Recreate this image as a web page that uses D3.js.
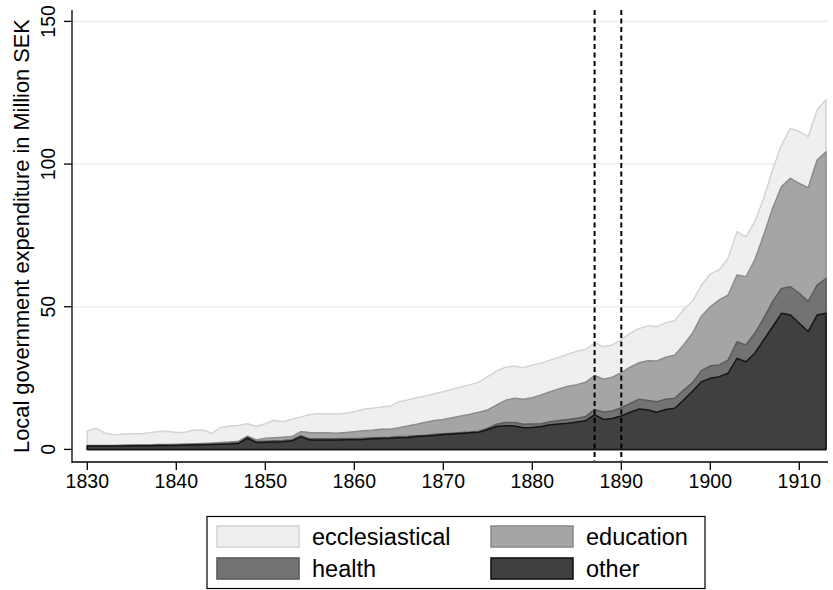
<!DOCTYPE html>
<html><head><meta charset="utf-8">
<script src="https://cdn.jsdelivr.net/npm/d3@7"></script>
<style>
body{margin:0;background:#fff}
svg{display:block}
text{font-family:"Liberation Sans",Arial,Helvetica,sans-serif;fill:#000}
</style>
</head><body>
<svg id="chart" width="833" height="590"></svg>
<script>
const years = [1830,1831,1832,1833,1834,1835,1836,1837,1838,1839,
1840,1841,1842,1843,1844,1845,1846,1847,1848,1849,
1850,1851,1852,1853,1854,1855,1856,1857,1858,1859,
1860,1861,1862,1863,1864,1865,1866,1867,1868,1869,
1870,1871,1872,1873,1874,1875,1876,1877,1878,1879,
1880,1881,1882,1883,1884,1885,1886,1887,1888,1889,
1890,1891,1892,1893,1894,1895,1896,1897,1898,1899,
1900,1901,1902,1903,1904,1905,1906,1907,1908,1909,
1910,1911,1912,1913];

const other = [1.2,1.2,1.2,1.2,1.2,1.3,1.3,1.3,1.4,1.4,
1.4,1.5,1.5,1.6,1.7,1.8,1.9,2.1,3.9,2.4,
2.5,2.6,2.7,3.0,4.4,3.3,3.3,3.3,3.3,3.4,
3.4,3.5,3.7,3.8,3.9,4.1,4.2,4.5,4.7,4.9,
5.2,5.4,5.6,5.8,6.0,7.0,8.0,8.3,8.2,7.6,
7.7,8.0,8.6,8.9,9.2,9.6,10.0,12.2,10.5,10.8,
11.7,13.0,14.2,13.8,13.0,14.0,14.4,17.3,20.4,23.7,
24.9,25.5,26.7,31.9,30.7,33.7,38.4,43.0,47.7,47.1,
44.2,41.3,47.1,47.7];

const health = [0.1,0.1,0.1,0.1,0.1,0.1,0.1,0.1,0.1,0.1,
0.1,0.1,0.2,0.2,0.2,0.2,0.3,0.3,0.4,0.4,
0.4,0.4,0.4,0.4,0.4,0.4,0.4,0.4,0.4,0.4,
0.4,0.4,0.4,0.4,0.4,0.4,0.4,0.3,0.3,0.4,
0.3,0.3,0.3,0.3,0.4,0.4,0.8,1.1,1.2,1.2,
1.2,1.0,1.1,1.2,1.3,1.3,1.5,1.8,2.6,2.7,
2.9,3.1,3.4,3.3,3.7,3.6,3.5,3.5,3.0,3.9,
4.4,4.1,4.6,5.8,5.9,7.0,7.5,8.8,8.7,9.9,
10.5,10.5,10.5,12.2];

const education = [0.1,0.1,0.1,0.1,0.2,0.1,0.2,0.2,0.2,0.2,
0.3,0.3,0.3,0.3,0.3,0.4,0.4,0.5,0.3,0.5,
1.0,1.1,1.2,1.1,1.4,2.2,2.1,2.1,2.0,2.1,
2.4,2.6,2.6,2.9,2.8,3.1,3.6,4.0,4.5,4.8,
5.0,5.4,5.8,6.2,6.6,6.4,6.8,7.8,8.5,8.8,
9.2,10.1,10.5,11.1,11.6,11.8,12.0,11.9,11.5,11.8,
12.3,12.7,12.8,14.0,14.3,14.7,15.1,15.8,17.3,19.1,
20.7,22.8,22.8,23.4,23.9,25.7,29.2,32.7,35.7,38.0,
38.5,39.9,43.8,44.4];

const ecclesiastical = [5.1,6.0,4.3,3.7,3.8,4.0,3.9,4.2,4.6,4.7,
4.1,4.1,4.8,4.7,3.4,5.3,5.6,5.5,4.4,4.8,
5.1,6.1,5.4,6.1,5.2,6.3,6.7,6.7,6.7,6.8,
7.0,7.6,7.7,7.8,8.0,9.1,9.1,9.3,9.2,9.4,
9.7,10.0,10.2,10.4,10.5,11.7,11.9,11.6,11.3,11.0,
11.5,11.1,11.1,11.1,11.3,11.6,11.6,11.3,11.4,11.3,
11.7,11.9,12.0,12.2,12.0,12.1,12.1,12.4,11.3,10.8,
11.5,10.5,12.9,15.2,14.0,13.4,12.9,13.5,14.6,17.5,
18.2,17.9,17.6,18.2];

const stackKeys = ["other","health","education","ecclesiastical"];
const legendOrder = ["ecclesiastical","education","health","other"];
const yTicks = [0,50,100,150];
const xTicks = [1830,1840,1850,1860,1870,1880,1890,1900,1910];
const markerYears = [1887,1890];
const yTitle = "Local government expenditure in Million SEK";

const fills = {ecclesiastical:"#efefef", education:"#a5a5a5", health:"#737373", other:"#404040"};
const strokes = {ecclesiastical:"#d4d4d4", education:"#8c8c8c", health:"#5c5c5c", other:"#141414"};

const rows = years.map((yr,i)=>({year:yr, other:other[i], health:health[i], education:education[i], ecclesiastical:ecclesiastical[i]}));
const stacked = d3.stack().keys(stackKeys)(rows);

const svg = d3.select("#chart");
const x = d3.scaleLinear().domain([1830,1910]).range([87.3,799.3]);
const y = d3.scaleLinear().domain([0,150]).range([449.4,21.4]);
const axisX0 = 72, axisY0 = 462, plotTop = 10, plotRight = 828;

// gridlines
svg.append("g").selectAll("line").data(yTicks.filter(t=>t>0)).join("line")
  .attr("x1",axisX0+1).attr("x2",plotRight)
  .attr("y1",d=>y(d)).attr("y2",d=>y(d))
  .attr("stroke","#e9eff1").attr("stroke-width",1.6);

// areas, largest cumulative first
const area = d3.area()
  .x(d=>x(d.data.year))
  .y0(y(0))
  .y1(d=>y(d[1]));
svg.append("g").selectAll("path").data(stacked.slice().reverse()).join("path")
  .attr("d",d=>area(d)+"")
  .attr("fill",d=>fills[d.key])
  .attr("stroke",d=>strokes[d.key])
  .attr("stroke-width",1.5)
  .attr("stroke-linejoin","round");

// dashed marker lines
svg.append("g").selectAll("line").data(markerYears).join("line")
  .attr("x1",d=>x(d)).attr("x2",d=>x(d))
  .attr("y1",plotTop).attr("y2",axisY0-1)
  .attr("stroke","#000").attr("stroke-width",2)
  .attr("stroke-dasharray","5,3.5");

// y axis
const yAxis = svg.append("g");
yAxis.append("line").attr("x1",axisX0).attr("x2",axisX0).attr("y1",plotTop).attr("y2",axisY0+1)
  .attr("stroke","#000").attr("stroke-width",1.3);
yAxis.selectAll("line.tick").data(yTicks).join("line").attr("class","tick")
  .attr("x1",axisX0-8).attr("x2",axisX0).attr("y1",d=>y(d)).attr("y2",d=>y(d))
  .attr("stroke","#000").attr("stroke-width",1.3);
yAxis.selectAll("text").data(yTicks).join("text")
  .attr("transform",d=>`translate(55,${y(d)}) rotate(-90)`)
  .attr("text-anchor","middle")
  .style("font-size","19.5px")
  .text(d=>d);
svg.append("text")
  .attr("transform",`translate(29,${(plotTop+axisY0)/2}) rotate(-90)`)
  .attr("text-anchor","middle")
  .style("font-size","21.8px")
  .text(yTitle);

// x axis
const xAxis = svg.append("g");
xAxis.append("line").attr("x1",axisX0).attr("x2",plotRight).attr("y1",axisY0).attr("y2",axisY0)
  .attr("stroke","#000").attr("stroke-width",1.3);
xAxis.selectAll("line.tick").data(xTicks).join("line").attr("class","tick")
  .attr("x1",d=>x(d)).attr("x2",d=>x(d)).attr("y1",axisY0).attr("y2",axisY0+8)
  .attr("stroke","#000").attr("stroke-width",1.3);
xAxis.selectAll("text").data(xTicks).join("text")
  .attr("x",d=>x(d)).attr("y",488)
  .attr("text-anchor","middle")
  .style("font-size","19.5px")
  .text(d=>d);

// legend
const lg = svg.append("g");
lg.append("rect").attr("x",207).attr("y",516.5).attr("width",498).attr("height",72)
  .attr("fill","#fff").attr("stroke","#000").attr("stroke-width",1.2);
const cols = [217,491], rowsY = [526,558];
legendOrder.forEach((k,i)=>{
  const cx = cols[i%2], ry = rowsY[Math.floor(i/2)];
  lg.append("rect").attr("x",cx).attr("y",ry).attr("width",82).attr("height",21)
    .attr("fill",fills[k]).attr("stroke",strokes[k]).attr("stroke-width",1.6);
  lg.append("text").attr("x",cx+95).attr("y",ry+19)
    .style("font-size","23.5px").text(k);
});
</script>
</body></html>
